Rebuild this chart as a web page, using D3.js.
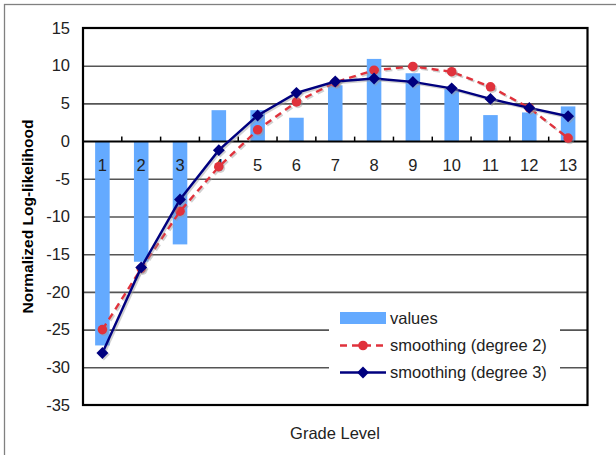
<!DOCTYPE html>
<html><head><meta charset="utf-8">
<script src="https://cdn.jsdelivr.net/npm/d3@7"></script>
<style>
html,body{margin:0;padding:0;background:#fff;}
svg{display:block;font-family:"Liberation Sans",Arial,sans-serif;}
</style></head>
<body>
<svg id="chart" width="616" height="455"></svg>
<script>
const categories = ["1","2","3","4","5","6","7","8","9","10","11","12","13"];
const values  = [-27.1,-16.0,-13.7,4.1,4.1,3.1,7.4,10.9,9.0,6.9,3.45,3.8,4.6];
const smooth2 = [-25.0,-16.9,-9.3,-3.4,1.5,5.2,7.8,9.4,9.9,9.2,7.2,4.4,0.4];
const smooth3 = [-28.1,-16.75,-7.75,-1.2,3.4,6.4,7.9,8.3,7.85,7.0,5.6,4.4,3.3];
const yTicks = [15,10,5,0,-5,-10,-15,-20,-25,-30,-35];
const seriesNames = ["values","smoothing (degree 2)","smoothing (degree 3)"];

const svg = d3.select("#chart");
const L = 83, R = 587.5, T = 28, B = 405;
const x = d3.scaleBand().domain(categories).range([L, R]);
const y = d3.scaleLinear().domain([-35, 15]).range([B, T]);
const textCol = "#222";
const barCol = "#64aaff", redCol = "#e0323c", navy = "#00007f";
const dash = "7,5";

// outer frame
svg.append("rect").attr("x",4.5).attr("y",4.5).attr("width",640).attr("height",480)
  .attr("fill","none").attr("stroke","#808080").attr("stroke-width",1.3);

// gridlines
const grid = svg.append("g").attr("transform",`translate(${L},0)`)
  .call(d3.axisLeft(y).tickValues(yTicks.filter(v => v!==15 && v!==-35 && v!==0)).tickSize(-(R-L)).tickFormat(""));
grid.select(".domain").remove();
grid.selectAll("line").attr("stroke","#555").attr("stroke-width",1.6);

// y tick labels
const yAx = svg.append("g").attr("transform",`translate(${L},0)`)
  .call(d3.axisLeft(y).tickValues(yTicks).tickSize(0).tickPadding(13).tickFormat(d => String(d)));
yAx.select(".domain").remove();
yAx.selectAll("text").attr("font-size","16.5px").attr("fill",textCol).attr("font-family","Liberation Sans, Arial, sans-serif");

// bars
const bw = x.bandwidth()*0.375;
svg.append("g").selectAll("rect").data(values).join("rect")
  .attr("x",(d,i)=> x(categories[i]) + x.bandwidth()/2 - bw/2)
  .attr("y",d => y(Math.max(0,d)))
  .attr("width",bw)
  .attr("height",d => Math.abs(y(d)-y(0)))
  .attr("fill",barCol);

// zero axis with category labels and boundary ticks
const xAx = svg.append("g").attr("transform",`translate(0,${y(0)})`)
  .call(d3.axisBottom(x).tickSize(0).tickPadding(18));
xAx.select(".domain").attr("stroke","#000").attr("stroke-width",2);
xAx.selectAll("text").attr("font-size","16.5px").attr("fill",textCol).attr("font-family","Liberation Sans, Arial, sans-serif");
svg.append("g").selectAll("line").data(categories.slice(1)).join("line")
  .attr("x1",d => x(d)).attr("x2",d => x(d))
  .attr("y1",y(0)).attr("y2",y(0)-4.5)
  .attr("stroke","#000").attr("stroke-width",1.5);

// lines
const cx = i => x(categories[i]) + x.bandwidth()/2;
const line = d3.line().x((d,i)=>cx(i)).y(d=>y(d));

function drawSeries(data, color, dashed, marker){
  const g = svg.append("g");
  g.append("path").datum(data).attr("d",line).attr("fill","none")
    .attr("stroke","#999").attr("stroke-opacity",0.45).attr("stroke-width",2.4)
    .attr("stroke-dasharray",dashed?dash:null).attr("transform","translate(1.5,1.5)");
  g.append("path").datum(data).attr("d",line).attr("fill","none")
    .attr("stroke",color).attr("stroke-width",2.4)
    .attr("stroke-dasharray",dashed?dash:null);
  const sym = d3.symbol().type(marker==="circle"?d3.symbolCircle:d3.symbolDiamond2).size(marker==="circle"?72:90);
  g.selectAll(".sh").data(data).join("path").attr("class","sh")
    .attr("d",sym).attr("transform",(d,i)=>`translate(${cx(i)+1.5},${y(d)+1.5})`)
    .attr("fill","#999").attr("fill-opacity",0.45);
  g.selectAll(".mk").data(data).join("path").attr("class","mk")
    .attr("d",sym).attr("transform",(d,i)=>`translate(${cx(i)},${y(d)})`)
    .attr("fill",color);
}
drawSeries(smooth2, redCol, true, "circle");
drawSeries(smooth3, navy, false, "diamond");

// plot border
svg.append("rect").attr("x",L).attr("y",T).attr("width",R-L).attr("height",B-T)
  .attr("fill","none").attr("stroke","#000").attr("stroke-width",2.2);

// legend
const lg = svg.append("g");
lg.append("rect").attr("x",329).attr("y",307).attr("width",231).attr("height",76).attr("fill","#fff");
const rows = [318, 345.5, 372.5];
lg.append("rect").attr("x",340).attr("y",rows[0]-6).attr("width",46).attr("height",12).attr("fill",barCol);
lg.append("line").attr("x1",340).attr("x2",386).attr("y1",rows[1]).attr("y2",rows[1])
  .attr("stroke",redCol).attr("stroke-width",2.4).attr("stroke-dasharray",dash);
lg.append("path").attr("d",d3.symbol().type(d3.symbolCircle).size(72)).attr("transform",`translate(363,${rows[1]})`).attr("fill",redCol);
lg.append("line").attr("x1",340).attr("x2",386).attr("y1",rows[2]).attr("y2",rows[2])
  .attr("stroke",navy).attr("stroke-width",2.4);
lg.append("path").attr("d",d3.symbol().type(d3.symbolDiamond2).size(90)).attr("transform",`translate(363,${rows[2]})`).attr("fill",navy);
lg.selectAll("text").data(seriesNames).join("text")
  .attr("x",390).attr("y",(d,i)=>rows[i]).attr("dy","0.36em")
  .attr("font-size","16.5px").attr("fill",textCol).text(d=>d);

// axis titles
svg.append("text").attr("x",335).attr("y",433).attr("dy","0.36em").attr("text-anchor","middle")
  .attr("font-size","16.5px").attr("fill",textCol).text("Grade Level");
svg.append("text").attr("transform","translate(27,216.5) rotate(-90)").attr("dy","0.36em")
  .attr("text-anchor","middle").attr("font-size","15.5px").attr("font-weight","bold").attr("fill","#000")
  .text("Normalized Log-likelihood");
</script>
</body></html>
